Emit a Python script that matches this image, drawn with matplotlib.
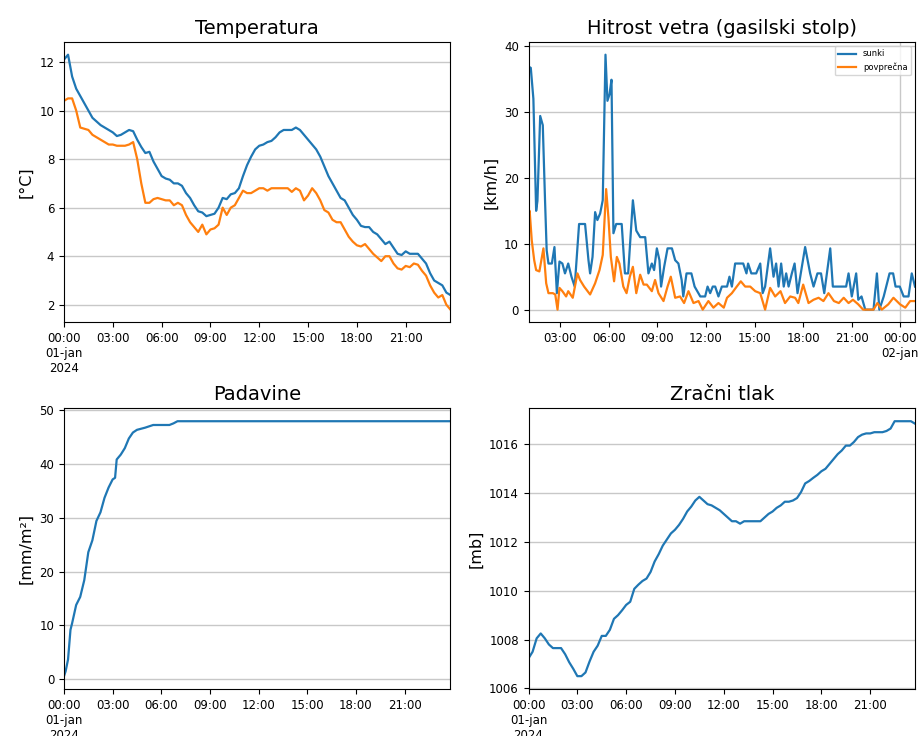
import matplotlib
matplotlib.use("Agg")
import matplotlib.pyplot as plt
import matplotlib.dates as mdates
from matplotlib.ticker import FuncFormatter
import numpy as np
import pandas as pd

# --- podatki (ure od polnoči 1. 1. 2024) ---
temp_ure = np.arange(0, 24, 0.25)
temperatura = [
    12.1, 12.3, 11.4, 10.9, 10.6, 10.3, 10.0, 9.7, 9.55, 9.4, 9.3, 9.2,
    9.1, 8.95, 9.0, 9.1, 9.2, 9.15, 8.8, 8.5, 8.25, 8.3, 7.9, 7.6,
    7.3, 7.2, 7.15, 7.0, 7.0, 6.9, 6.6, 6.4, 6.1, 5.85, 5.8, 5.65,
    5.7, 5.75, 6.0, 6.4, 6.35, 6.55, 6.6, 6.8, 7.3, 7.75, 8.1, 8.4,
    8.55, 8.6, 8.7, 8.75, 8.9, 9.1, 9.2, 9.2, 9.2, 9.3, 9.2, 9.0,
    8.8, 8.6, 8.4, 8.1, 7.7, 7.3, 7.0, 6.7, 6.4, 6.3, 6.0, 5.7,
    5.5, 5.25, 5.2, 5.2, 5.0, 4.9, 4.7, 4.5, 4.6, 4.35, 4.1, 4.05,
    4.2, 4.1, 4.1, 4.1, 3.9, 3.7, 3.3, 3.0, 2.9, 2.8, 2.5, 2.4,
]
rosisce = [
    10.4, 10.5, 10.5, 10.0, 9.3, 9.25, 9.2, 9.0, 8.9, 8.8, 8.7, 8.6,
    8.6, 8.55, 8.55, 8.55, 8.6, 8.7, 8.0, 7.0, 6.2, 6.2, 6.35, 6.4,
    6.35, 6.3, 6.3, 6.1, 6.2, 6.1, 5.7, 5.4, 5.2, 5.0, 5.3, 4.9,
    5.1, 5.15, 5.3, 6.0, 5.7, 6.0, 6.1, 6.4, 6.7, 6.6, 6.6, 6.7,
    6.8, 6.8, 6.7, 6.8, 6.8, 6.8, 6.8, 6.8, 6.65, 6.8, 6.7, 6.3,
    6.5, 6.8, 6.6, 6.3, 5.9, 5.8, 5.5, 5.4, 5.4, 5.1, 4.8, 4.6,
    4.45, 4.4, 4.5, 4.3, 4.1, 3.95, 3.8, 4.0, 4.0, 3.7, 3.5, 3.45,
    3.6, 3.55, 3.7, 3.65, 3.4, 3.2, 2.8, 2.5, 2.3, 2.4, 2.0, 1.8,
]

sunki_ure = [
    1.05, 1.19, 1.35, 1.52, 1.6, 1.77, 1.93, 2.07, 2.17, 2.28, 2.49, 2.65,
    2.8, 2.96, 3.14, 3.3, 3.5, 3.7, 3.9, 4.17, 4.33, 4.54, 4.75, 4.85,
    5.0, 5.16, 5.3, 5.47, 5.63, 5.8, 5.92, 6.05, 6.17, 6.29, 6.46, 6.8,
    7.0, 7.2, 7.49, 7.7, 7.94, 8.25, 8.45, 8.66, 8.8, 8.97, 9.13, 9.23,
    9.42, 9.63, 9.9, 10.1, 10.3, 10.5, 10.6, 10.8, 11.1, 11.3, 11.65, 11.95,
    12.1, 12.26, 12.42, 12.57, 12.77, 12.98, 13.3, 13.45, 13.6, 13.8, 14.3, 14.5,
    14.6, 14.8, 15.1, 15.35, 15.5, 15.65, 15.96, 16.17, 16.33, 16.48, 16.64, 16.8,
    16.95, 17.1, 17.3, 17.47, 17.65, 18.12, 18.43, 18.64, 18.88, 19.1, 19.3, 19.67,
    19.83, 20.28, 20.65, 20.8, 21.0, 21.27, 21.4, 21.6, 21.83, 22.34, 22.55, 22.7,
    22.97, 23.33, 23.55, 23.7, 23.96, 24.2, 24.5, 24.7, 24.9,
]
sunki = [
    36.9, 36.7, 32.0, 15.0, 16.5, 29.4, 28.0, 16.5, 9.0, 7.0, 7.0, 9.5,
    2.5, 7.3, 7.0, 5.5, 7.0, 5.0, 3.5, 13.0, 13.0, 13.0, 7.5, 5.5,
    8.0, 14.8, 13.6, 14.6, 16.6, 38.7, 31.7, 32.7, 34.9, 11.6, 13.0, 13.0,
    5.5, 5.5, 16.6, 12.0, 11.0, 11.0, 5.5, 7.0, 6.0, 9.3, 7.5, 3.5,
    6.5, 9.3, 9.3, 7.5, 7.0, 4.5, 2.0, 5.5, 5.5, 3.5, 2.0, 2.0,
    3.5, 2.5, 3.5, 3.5, 2.0, 3.5, 3.5, 5.0, 3.5, 7.0, 7.0, 5.5,
    7.0, 5.5, 5.5, 7.0, 2.5, 3.5, 9.3, 5.0, 7.0, 3.5, 7.0, 3.5,
    5.5, 3.5, 5.5, 7.0, 2.5, 9.5, 5.5, 3.5, 5.5, 5.5, 2.5, 9.3,
    3.5, 3.5, 3.5, 5.5, 2.0, 5.5, 1.5, 2.0, 0.0, 0.0, 5.5, 0.0,
    2.0, 5.5, 5.5, 3.5, 3.5, 2.0, 2.0, 5.5, 3.5,
]

povp_ure = [
    1.05, 1.12, 1.25, 1.4, 1.52, 1.72, 1.97, 2.14, 2.28, 2.55, 2.7, 2.84,
    2.96, 3.14, 3.37, 3.5, 3.78, 4.07, 4.23, 4.48, 4.85, 5.16, 5.43, 5.63,
    5.84, 5.98, 6.13, 6.33, 6.5, 6.66, 6.9, 7.1, 7.3, 7.49, 7.7, 7.94,
    8.15, 8.35, 8.66, 8.86, 9.07, 9.38, 9.63, 9.83, 10.1, 10.4, 10.65, 10.92,
    11.23, 11.54, 11.8, 12.15, 12.46, 12.77, 13.1, 13.3, 13.6, 13.9, 14.15, 14.42,
    14.73, 15.04, 15.35, 15.65, 15.96, 16.27, 16.6, 16.88, 17.2, 17.5, 17.7, 18.0,
    18.33, 18.64, 18.95, 19.25, 19.56, 19.9, 20.2, 20.5, 20.8, 21.07, 21.4, 21.7,
    22.34, 22.58, 22.85, 23.25, 23.57, 23.98, 24.3, 24.6, 24.9,
]
povprecna = [
    14.6, 15.0, 10.5, 7.5, 6.0, 5.8, 9.3, 4.0, 2.5, 2.5, 2.3, 0.0,
    3.3, 2.8, 2.0, 2.8, 1.8, 5.5, 4.5, 3.5, 2.3, 4.0, 6.0, 8.3,
    18.3, 14.0, 8.0, 4.3, 8.0, 7.0, 3.5, 2.5, 5.0, 6.5, 2.5, 5.3,
    3.8, 3.8, 2.8, 4.5, 2.5, 1.3, 3.5, 5.0, 1.8, 2.0, 1.0, 2.8,
    1.0, 1.3, 0.0, 1.3, 0.3, 1.0, 0.3, 1.8, 2.5, 3.5, 4.3, 3.5,
    3.5, 2.8, 2.5, 0.0, 3.3, 2.0, 2.8, 1.0, 2.0, 1.8, 1.0, 3.8,
    1.0, 1.5, 1.8, 1.3, 2.5, 1.3, 1.0, 1.8, 1.0, 1.5, 0.8, 0.0,
    0.0, 1.0, 0.0, 0.8, 1.8, 0.8, 0.3, 1.3, 1.3,
]

pad_ure = [
    0.0, 0.1, 0.25, 0.4, 0.5, 0.75, 1.0, 1.25, 1.5, 1.75, 2.0, 2.25,
    2.5, 2.75, 3.0, 3.15, 3.25, 3.5, 3.75, 4.0, 4.25, 4.5, 5.0, 5.5,
    6.0, 6.5, 6.75, 7.0, 23.83,
]
padavine = [
    0.6, 1.5, 3.7, 9.2, 10.4, 13.8, 15.3, 18.4, 23.6, 25.8, 29.4, 31.0,
    33.7, 35.6, 37.1, 37.4, 40.8, 41.7, 42.9, 44.7, 45.8, 46.3, 46.7, 47.2,
    47.2, 47.2, 47.5, 47.9, 47.9,
]

tlak_ure = np.arange(0, 24, 0.25)
tlak = [
    1007.23, 1007.5, 1008.05, 1008.25, 1008.05, 1007.8, 1007.65, 1007.65,
    1007.65, 1007.4, 1007.07, 1006.8, 1006.5, 1006.5, 1006.65, 1007.1,
    1007.5, 1007.75, 1008.15, 1008.15, 1008.4, 1008.85, 1009.0, 1009.2,
    1009.42, 1009.55, 1010.08, 1010.25, 1010.4, 1010.5, 1010.77, 1011.2,
    1011.5, 1011.85, 1012.1, 1012.35, 1012.5, 1012.7, 1012.95, 1013.25,
    1013.45, 1013.7, 1013.85, 1013.7, 1013.55, 1013.5, 1013.4, 1013.3,
    1013.15, 1013.0, 1012.85, 1012.85, 1012.75, 1012.85, 1012.85, 1012.85,
    1012.85, 1012.85, 1013.0, 1013.15, 1013.25, 1013.4, 1013.5, 1013.65,
    1013.65, 1013.7, 1013.8, 1014.05, 1014.4, 1014.5, 1014.63, 1014.75,
    1014.9, 1015.0, 1015.2, 1015.4, 1015.6, 1015.75, 1015.95, 1015.95,
    1016.1, 1016.3, 1016.4, 1016.45, 1016.45, 1016.5, 1016.5, 1016.5,
    1016.55, 1016.65, 1016.95, 1016.95, 1016.95, 1016.95, 1016.95, 1016.85,
]

MESECI = ["jan", "feb", "mar", "apr", "maj", "jun",
          "jul", "avg", "sep", "okt", "nov", "dec"]
ZACETEK = pd.Timestamp("2024-01-01 00:00")


def cas(ure):
    return ZACETEK + pd.to_timedelta(np.asarray(ure, dtype=float), unit="h")


def oznaka_casa(x, pos):
    d = mdates.num2date(x)
    s = d.strftime("%H:%M")
    if d.hour == 0 and d.minute == 0:
        s += f"\n{d.day:02d}-{MESECI[d.month - 1]}"
        if d.day == 1 and d.month == 1:
            s += f"\n{d.year}"
    return s


def uredi_os(ax, naslov, enota):
    ax.set_title(naslov, fontsize=14)
    ax.set_ylabel(enota, fontsize=11.5)
    ax.grid(axis="y", color="#c8c8c8", linewidth=1)
    ax.set_axisbelow(True)
    ax.xaxis.set_major_locator(mdates.HourLocator(byhour=range(0, 24, 3)))
    ax.xaxis.set_major_formatter(FuncFormatter(oznaka_casa))
    ax.tick_params(labelsize=8.5)
    ax.margins(x=0)


fig, axs = plt.subplots(2, 2, figsize=(9.22, 7.36), dpi=100)
fig.subplots_adjust(left=0.0694, right=0.9924, bottom=0.064, top=0.943,
                    wspace=0.202, hspace=0.307)

ax = axs[0, 0]
ax.plot(cas(temp_ure), temperatura, color="C0", lw=1.6)
ax.plot(cas(temp_ure), rosisce, color="C1", lw=1.6)
uredi_os(ax, "Temperatura", "[°C]")

ax = axs[0, 1]
ax.plot(cas(sunki_ure), sunki, color="C0", lw=1.6, label="sunki")
ax.plot(cas(povp_ure), povprecna, color="C1", lw=1.6, label="povprečna")
ax.axvline(pd.Timestamp("2024-01-02 00:00"), color="#c8c8c8", lw=1, zorder=0)
uredi_os(ax, "Hitrost vetra (gasilski stolp)", "[km/h]")
ax.set_yticks([0, 10, 20, 30, 40])
ax.legend(loc="upper right", fontsize=6, handlelength=2.2)

ax = axs[1, 0]
ax.plot(cas(pad_ure), padavine, color="C0", lw=1.6)
uredi_os(ax, "Padavine", "[mm/m²]")

ax = axs[1, 1]
ax.plot(cas(tlak_ure), tlak, color="C0", lw=1.6)
uredi_os(ax, "Zračni tlak", "[mb]")

fig.savefig("out.png", dpi=100)
